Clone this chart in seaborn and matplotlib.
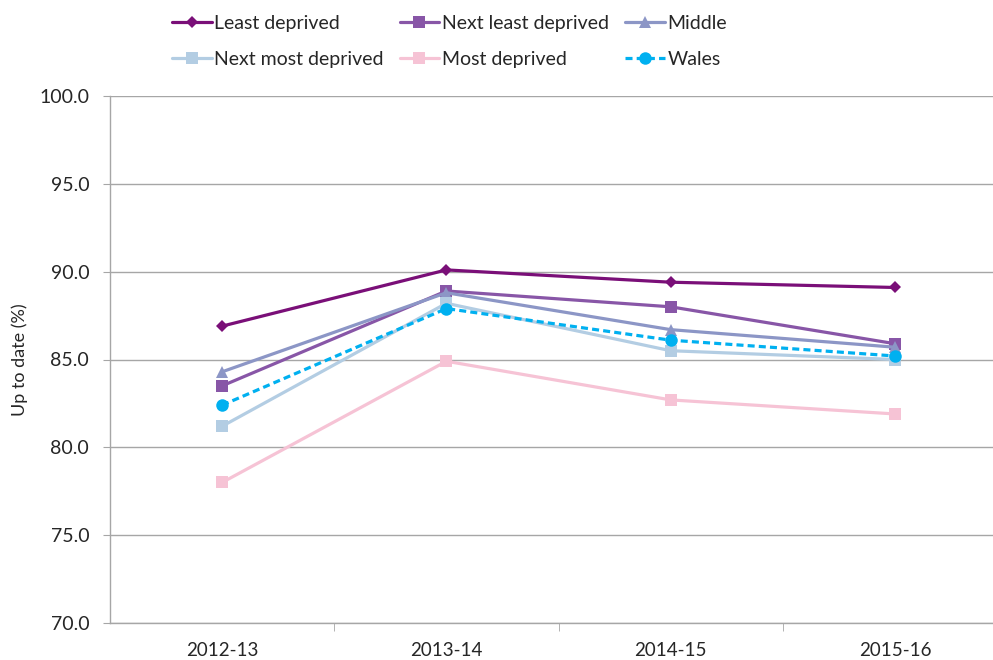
import numpy as np
import pandas as pd
import seaborn as sns
import matplotlib.pyplot as plt
from matplotlib.ticker import FixedLocator

years = ['2012-13', '2013-14', '2014-15', '2015-16']
least = [86.9, 90.1, 89.4, 89.1]
next_least = [83.5, 88.9, 88.0, 85.9]
middle = [84.3, 88.8, 86.7, 85.7]
next_most = [81.2, 88.2, 85.5, 85.0]
most = [78.0, 84.9, 82.7, 81.9]
wales = [82.4, 87.9, 86.1, 85.2]

series = {
  'Least deprived': least,
  'Next least deprived': next_least,
  'Middle': middle,
  'Next most deprived': next_most,
  'Most deprived': most,
  'Wales': wales,
}
colours = {
  'Least deprived': '#7a0f78',
  'Next least deprived': '#8856a7',
  'Middle': '#8c96c6',
  'Next most deprived': '#b3cde3',
  'Most deprived': '#f6c3d5',
  'Wales': '#00b0f0',
}
markers = {
  'Least deprived': 'D',
  'Next least deprived': 's',
  'Middle': '^',
  'Next most deprived': 's',
  'Most deprived': 's',
  'Wales': 'o',
}
sizes = {'Least deprived': 6.5, 'Next least deprived': 8.5, 'Middle': 8.5,
         'Next most deprived': 8.5, 'Most deprived': 8.5, 'Wales': 9}

df = pd.DataFrame([
  {'year': y, 'value': v, 'group': g}
  for g, vals in series.items() for y, v in zip(years, vals)
])

sns.set_style('white')
plt.rcParams['font.family'] = ['Lato', 'DejaVu Sans']

fig = plt.figure(figsize=(9.93, 6.60), dpi=100)
ax = fig.add_axes([110/993, 1 - 623/660, (1007 - 110)/993, (623 - 96)/660])

handles = {}
for g in series:
  d = df[df['group'] == g]
  sns.lineplot(data=d, x='year', y='value', ax=ax, color=colours[g],
               marker=markers[g], markersize=sizes[g], markeredgewidth=0,
               linewidth=2.3, dashes=False, sort=False, label=g)
  ln = ax.lines[-1]
  if g == 'Wales':
    ln.set_linestyle((0, (2.2, 1.3)))
  handles[g] = ln

ax.set_xlim(-0.5, 3.5)
ax.set_ylim(70, 100)
ax.set_yticks(np.arange(70, 100.1, 5))
ax.set_yticklabels([f'{v:.1f}' for v in np.arange(70, 100.1, 5)])
ax.yaxis.grid(True, color='#a6a6a6', linewidth=1)
ax.set_axisbelow(True)
ax.set_xlabel('')
ax.set_ylabel('Up to date (%)', fontsize=13, labelpad=8)
for s in ['top', 'right']:
  ax.spines[s].set_visible(False)
for s in ['left', 'bottom']:
  ax.spines[s].set_color('#a6a6a6')
  ax.spines[s].set_linewidth(1)
ax.tick_params(axis='y', which='major', left=True, length=5, color='#a6a6a6',
               labelsize=14, pad=10)
ax.tick_params(axis='x', which='major', bottom=False, labelsize=13.5, pad=10)
ax.xaxis.set_minor_locator(FixedLocator([0.5, 1.5, 2.5]))
ax.tick_params(axis='x', which='minor', bottom=True, length=6, color='#a6a6a6')

order = ['Least deprived', 'Next most deprived', 'Next least deprived',
         'Most deprived', 'Middle', 'Wales']
ax.legend([handles[g] for g in order], order, ncol=3, frameon=False,
          loc='upper left', bbox_to_anchor=(160/993, 1 - 3/660), bbox_transform=fig.transFigure,
          fontsize=14, handlelength=2.05, handletextpad=0.15, columnspacing=0.8,
          labelspacing=0.98, borderaxespad=0.2)

fig.savefig('out.png', dpi=100)
